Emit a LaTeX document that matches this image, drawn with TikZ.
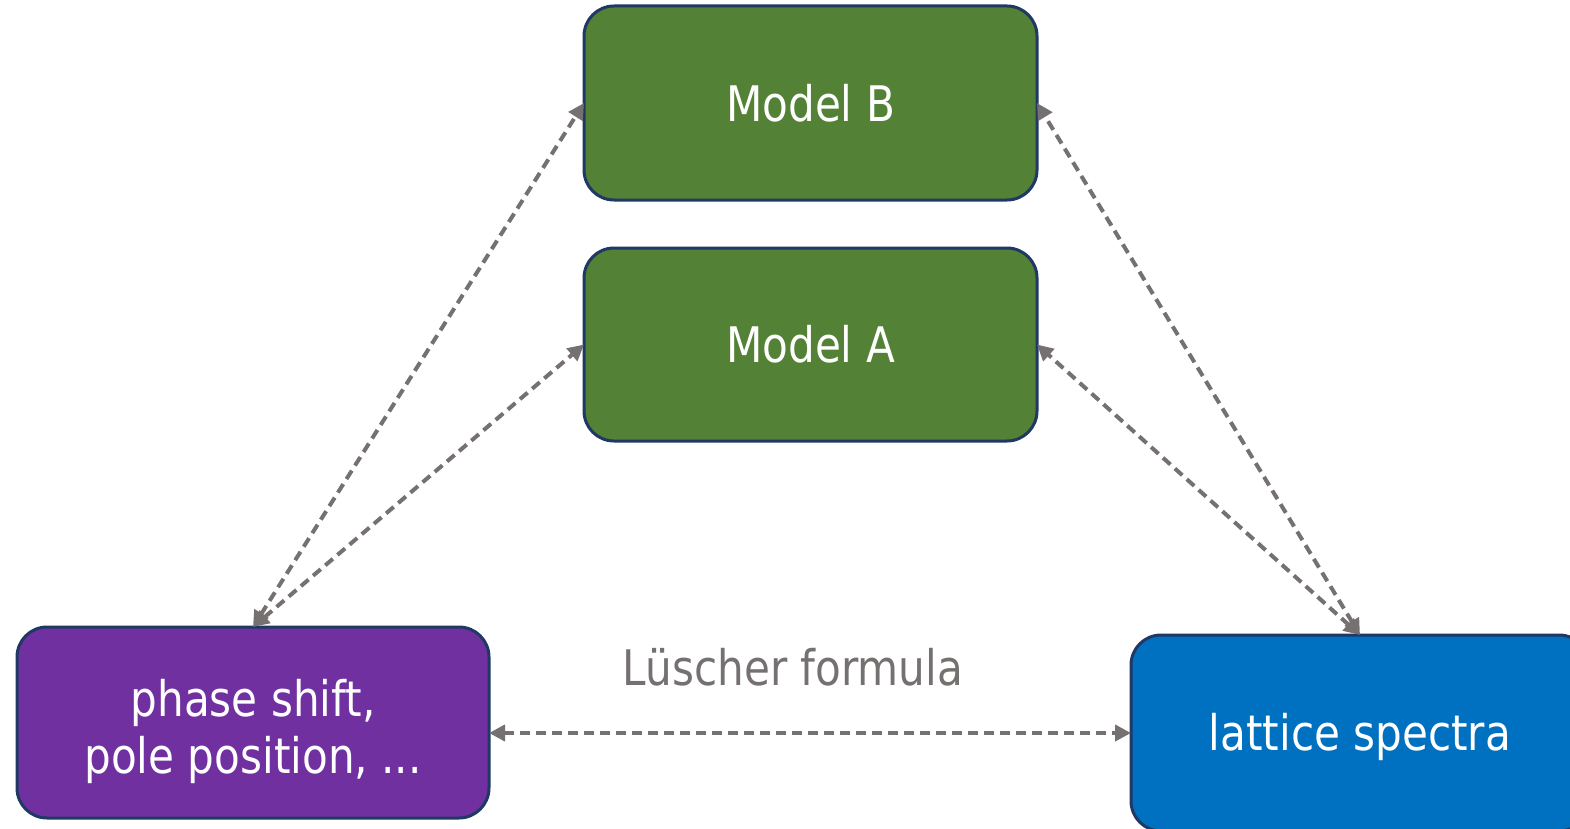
\documentclass[tikz,border=0pt]{standalone}
\usepackage{fontspec}
\setmainfont[FakeStretch=0.86]{DejaVu Sans}
\usetikzlibrary{arrows.meta}
\definecolor{mgreen}{HTML}{538135}
\definecolor{mpurple}{HTML}{7030A0}
\definecolor{mblue}{HTML}{0070C0}
\definecolor{mborder}{HTML}{1F3864}
\definecolor{mgray}{HTML}{767171}
\tikzset{
  box/.style={draw=mborder, line width=3pt, rounded corners=30pt, outer sep=0pt,
    text=white, align=center, inner sep=0pt,
    font=\fontsize{49}{57}\selectfont},
  boxtext/.style={text=white, align=center, inner sep=0pt,
    font=\fontsize{49}{57}\selectfont},
  link/.style={draw=mgray, line width=4pt, dash pattern=on 10pt off 6pt,
    {Triangle[length=16pt,width=16pt]}-{Triangle[length=16pt,width=16pt]}},
}
\begin{document}
\begin{tikzpicture}[x=1pt,y=-1pt]
\useasboundingbox (0,0) rectangle (1570,829);
\begin{scope}
\clip (0,0) rectangle (1570,829);
\node[box, fill=mgreen, minimum width=453pt, minimum height=194pt] (mb) at (810.5,103) {Model B};
\node[box, fill=mgreen, minimum width=453pt, minimum height=193pt] (ma) at (810.5,344.5) {Model A};
\node[box, fill=mpurple, minimum width=472pt, minimum height=191pt,
  label={[boxtext, yshift=-9pt]center:phase shift,\\pole position, ...}] (ps) at (253,722.5) {};
\node[box, fill=mblue, minimum width=458pt, minimum height=196pt,
  label={[boxtext, yshift=-4pt]center:lattice spectra}] (ls) at (1360,733) {};
\node[text=mgray, font=\fontsize{49}{57}\selectfont, inner sep=0pt] (lf) at (793,667) {Lüscher formula};
\draw[link] (ps.north) -- (mb.west);
\draw[link] (ps.north) -- (ma.west);
\draw[link] (ls.north) -- (mb.east);
\draw[link] (ls.north) -- (ma.east);
\draw[link] (ls.west -| ps.east) -- (ls.west);
\end{scope}
\end{tikzpicture}
\end{document}
